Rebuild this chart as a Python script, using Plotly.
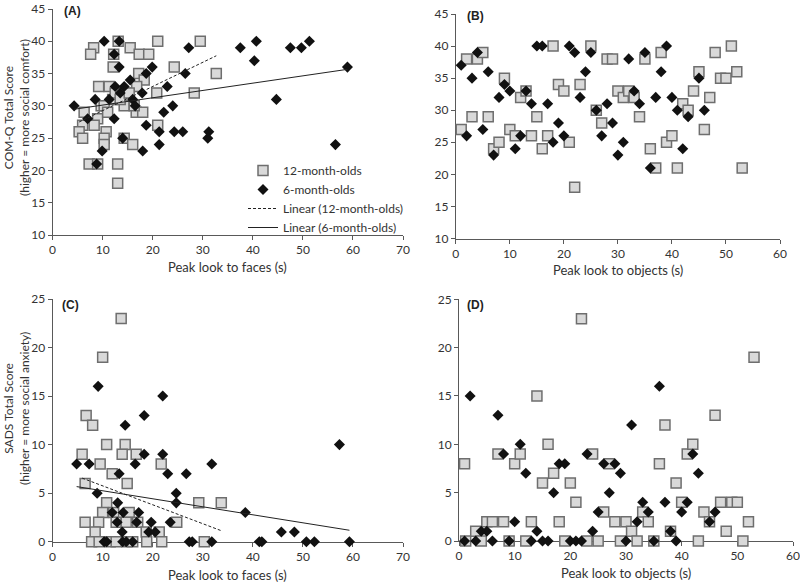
import numpy as np
import plotly.graph_objects as go

# ---------------- DATA ----------------
# Panel A: COM-Q vs peak look to faces
a12_x = [13.1, 21.0, 29.5, 8.2, 15.5, 7.6, 12.2, 17.3, 19.2, 12.1, 24.3, 32.7, 17.2, 18.3,
         9.2, 11.3, 16.8, 14.6, 20.8, 28.3, 12.0, 14.3, 9.7, 6.3, 16.7, 18.0, 9.0, 6.0,
         8.3, 21.0, 5.3, 10.7, 6.0, 10.3, 14.3, 10.3, 16.0, 7.3, 9.0, 13.0, 13.0,
         10.3, 12.5, 13.5, 15.3, 11.0, 16.3]
a12_y = [40, 40, 40, 39, 39, 38, 38, 38, 38, 36, 36, 35, 35, 34,
         33, 33, 33, 32, 32, 32, 31, 30, 30, 29, 29, 29, 28, 27,
         27, 27, 26, 26, 25, 25, 25, 24, 24, 21, 21, 21, 18,
         30, 32, 31, 32, 29, 30]
a6_x = [10.3, 13.3, 40.7, 51.3, 27.2, 37.5, 47.5, 49.7, 12.3, 40.3, 13.3, 19.9, 58.9,
        18.7, 26.5, 15.5, 12.5, 14.3, 22.9, 13.5, 17.9, 8.5, 11.3, 16.0, 44.7, 4.3,
        16.5, 24.0, 22.2, 7.0, 12.3, 18.7, 21.3, 24.3, 26.0, 31.2, 14.0, 31.0, 21.3,
        56.5, 9.9, 18.0, 8.8]
a6_y = [40, 40, 40, 40, 39, 39, 39, 39, 38, 37, 36, 36, 36,
        35, 35, 34, 33, 33, 33, 32, 32, 31, 31, 31, 31, 30,
        30, 30, 29, 28, 28, 27, 26, 26, 26, 26, 25, 25, 24,
        24, 23, 23, 21]

# Panel B: COM-Q vs peak look to objects
b12_x = [1, 2, 4, 5, 3, 6, 7, 8, 9, 10, 11, 12, 13, 14, 15, 16, 17, 18, 19, 20, 21, 22, 23,
         25, 26, 27, 28, 29, 30, 31, 32, 33, 34, 35, 36, 37, 38, 39, 40, 41, 42, 43, 44,
         45, 46, 47, 48, 49, 50, 51, 52, 53]
b12_y = [27, 38, 38, 39, 29, 29, 24, 25, 35, 27, 26, 32, 33, 26, 29, 24, 26, 40, 34, 33, 25, 18, 34,
         40, 30, 28, 38, 38, 33, 32, 33, 32, 29, 38, 24, 21, 39, 25, 26, 21, 31, 30, 33,
         36, 27, 32, 39, 35, 35, 40, 36, 21]
b6_x = [1, 2, 3, 4, 5, 6, 7, 8, 9, 10, 11, 12, 13, 14, 15, 16, 17, 18, 19, 20, 21, 22, 23,
        24, 25, 26, 27, 28, 29, 30, 31, 32, 33, 34, 35, 36, 37, 38, 39, 40, 41, 42, 43,
        45, 46]
b6_y = [37, 26, 35, 39, 27, 36, 23, 32, 34, 33, 24, 26, 33, 31, 40, 40, 31, 25, 28, 26, 40, 39, 32,
        36, 39, 30, 26, 31, 28, 23, 25, 38, 33, 31, 39, 21, 32, 36, 40, 32, 30, 24, 29,
        35, 30]

# Panel C: SADS vs peak look to faces
c12_x = [13.7, 10.0, 6.7, 8.0, 10.8, 14.5, 5.9, 13.9, 16.7, 9.5, 21.7, 11.9, 14.9, 6.5,
         29.2, 33.7, 10.8, 10.0, 12.2, 15.3, 6.5, 9.2, 12.7, 14.7, 17.0, 24.8, 8.5, 18.7,
         21.3, 7.8, 9.3, 11.5, 12.7, 14.8, 16.0, 18.8, 21.8, 30.3]
c12_y = [23, 19, 13, 12, 10, 10, 9, 9, 9, 8, 8, 7, 6, 6,
         4, 4, 4, 3, 3, 3, 2, 2, 2, 2, 2, 2, 1, 1,
         1, 0, 0, 0, 0, 0, 0, 0, 0, 0]
c6_x = [4.8, 7.3, 9.1, 8.9, 10.3, 10.8, 11.9, 13.0, 13.3, 12.9, 14.0, 14.5, 14.1, 13.9,
        14.7, 16.0, 16.5, 17.2, 16.8, 18.3, 18.3, 19.2, 19.7, 20.5, 22.0, 22.0, 23.0, 23.5,
        24.7, 24.7, 26.7, 27.3, 27.9, 31.8, 31.8, 38.5, 41.3, 41.8, 45.7, 48.3, 50.7, 52.3,
        57.3, 59.3]
c6_y = [8, 8, 16, 5, 0, 0, 3, 4, 7, 2, 0, 12, 3, 1,
        0, 0, 8, 3, 2, 13, 9, 1, 2, 1, 15, 9, 7, 2,
        5, 4, 7, 0, 0, 8, 0, 3, 0, 0, 1, 1, 0, 0,
        10, 0]

# Panel D: SADS vs peak look to objects
d12_x = [1, 1.2, 3, 4, 5, 6, 8, 7, 9, 10, 11, 12, 13, 14, 15, 16, 17, 18, 19, 20, 21, 22,
         23, 24, 25, 26, 27, 28, 29, 30, 31, 32, 33, 34, 35, 36, 37, 38, 39, 40, 41, 42,
         43, 44, 45, 46, 47, 48, 49, 50, 51, 52, 53]
d12_y = [8, 0, 1, 0, 2, 2, 2, 9, 0, 8, 9, 0, 2, 15, 6, 10, 7, 2, 0, 6, 4, 23,
         0, 9, 0, 3, 8, 2, 0, 2, 1, 0, 3, 2, 0, 8, 12, 1, 6, 4, 9, 10,
         0, 3, 2, 13, 4, 1, 4, 4, 0, 2, 19]
d6_x = [1, 2, 3, 4, 5, 6, 7, 8, 9, 10, 11, 12, 13, 14, 15, 16, 17, 18, 19, 20, 21, 22, 23,
        24, 25, 26, 27, 28, 29, 30, 31, 32, 33, 34, 35, 36, 37, 38, 39, 40, 41, 42, 43,
        45, 46]
d6_y = [0, 15, 0, 1, 1, 0, 13, 9, 0, 2, 10, 7, 0, 1, 0, 0, 5, 8, 8, 0, 0, 0, 9,
        1, 3, 8, 5, 8, 7, 0, 12, 2, 4, 3, 0, 16, 4, 1, 0, 3, 4, 9, 7,
        2, 3]

# ---------------- STYLE ----------------
FONT = "Lato"
AX = "#595959"
TXT = "#333333"
SQ = dict(symbol="square", size=10, color="#d9d9d9", line=dict(color="#6e6e6e", width=1.5))
DM = dict(symbol="diamond", size=8.5, color="#111111", line=dict(width=0))

fig = go.Figure()


def trend(x, y):
    x = np.asarray(x, float)
    y = np.asarray(y, float)
    k, b = np.polyfit(x, y, 1)
    xs = np.array([x.min(), x.max()])
    return xs, k * xs + b


panels = [
    ("x", "y", a12_x, a12_y, a6_x, a6_y, True),
    ("x2", "y2", b12_x, b12_y, b6_x, b6_y, False),
    ("x3", "y3", c12_x, c12_y, c6_x, c6_y, True),
    ("x4", "y4", d12_x, d12_y, d6_x, d6_y, False),
]

for i, (xa, ya, x12, y12, x6, y6, lines) in enumerate(panels):
    first = i == 0
    fig.add_trace(go.Scatter(x=x12, y=y12, mode="markers", marker=SQ, name="12-month-olds",
                             xaxis=xa, yaxis=ya, showlegend=first, cliponaxis=False))
    fig.add_trace(go.Scatter(x=x6, y=y6, mode="markers", marker=DM, name="6-month-olds",
                             xaxis=xa, yaxis=ya, showlegend=first, cliponaxis=False))
    if lines:
        tx, ty = trend(x12, y12)
        fig.add_trace(go.Scatter(x=tx, y=ty, mode="lines", name="Linear (12-month-olds)",
                                 line=dict(color="#222222", width=1, dash="3px,2px"),
                                 xaxis=xa, yaxis=ya, showlegend=first))
        tx, ty = trend(x6, y6)
        fig.add_trace(go.Scatter(x=tx, y=ty, mode="lines", name="Linear (6-month-olds)",
                                 line=dict(color="#222222", width=1),
                                 xaxis=xa, yaxis=ya, showlegend=first))


def axis(domain, rng, dtick, anchor):
    return dict(domain=domain, range=rng, dtick=dtick, anchor=anchor,
                showline=True, linecolor=AX, linewidth=1, ticks="outside", ticklen=4,
                tickcolor=AX, showgrid=False, zeroline=False, layer="below traces",
                tickfont=dict(family=FONT, size=12, color=TXT), automargin=False)


H = 582.0
W = 800.0
fig.update_layout(
    width=800, height=582,
    paper_bgcolor="white", plot_bgcolor="white",
    margin=dict(l=0, r=0, t=0, b=0),
    xaxis=axis([52.6 / W, 403 / W], [0, 70], 10, "y"),
    yaxis=axis([1 - 235 / H, 1 - 9 / H], [10, 45], 5, "x"),
    xaxis2=axis([455.8 / W, 780 / W], [0, 60], 10, "y2"),
    yaxis2=axis([1 - 238.5 / H, 1 - 14 / H], [10, 45], 5, "x2"),
    xaxis3=axis([52.6 / W, 403 / W], [0, 70], 10, "y3"),
    yaxis3=axis([1 - 541.7 / H, 1 - 299 / H], [0, 25], 5, "x3"),
    xaxis4=axis([459 / W, 793 / W], [0, 60], 10, "y4"),
    yaxis4=axis([1 - 541 / H, 1 - 299.3 / H], [0, 25], 5, "x4"),
    legend=dict(x=243 / W, y=1 - 156 / H, xanchor="left", yanchor="top",
                bgcolor="rgba(0,0,0,0)", font=dict(family=FONT, size=12, color=TXT),
                tracegroupgap=0),
    showlegend=True,
)

ann = []
tf = dict(family=FONT, size=13, color=TXT)
for txt, cx, cy in [("Peak look to faces (s)", 227.8, 267),
                    ("Peak look to objects (s)", 618, 270),
                    ("Peak look to faces (s)", 227.8, 575),
                    ("Peak look to objects (s)", 626, 573)]:
    ann.append(dict(text=txt, x=cx / W, y=1 - cy / H, xref="paper", yref="paper",
                    xanchor="center", yanchor="middle", showarrow=False, font=tf))
for txt, cy in [("COM-Q Total Score<br>(higher = more social comfort)", 118),
                ("SADS Total Score<br>(higher = more social anxiety)", 409)]:
    ann.append(dict(text=txt, x=17 / W, y=1 - cy / H, xref="paper", yref="paper",
                    xanchor="center", yanchor="middle", showarrow=False, textangle=-90,
                    font=dict(family=FONT, size=12, color=TXT)))
for txt, lx, ly in [("(A)", 62, 11), ("(B)", 465, 16), ("(C)", 60, 305), ("(D)", 465, 305)]:
    ann.append(dict(text="<b>%s</b>" % txt, x=lx / W, y=1 - ly / H, xref="paper", yref="paper",
                    xanchor="left", yanchor="middle", showarrow=False,
                    font=dict(family="Liberation Sans", size=12, color="#222222")))
fig.update_layout(annotations=ann)

fig.write_html("out.html", config={"displayModeBar": False},
               post_script="document.body.style.margin='0';document.body.style.overflow='hidden';")
